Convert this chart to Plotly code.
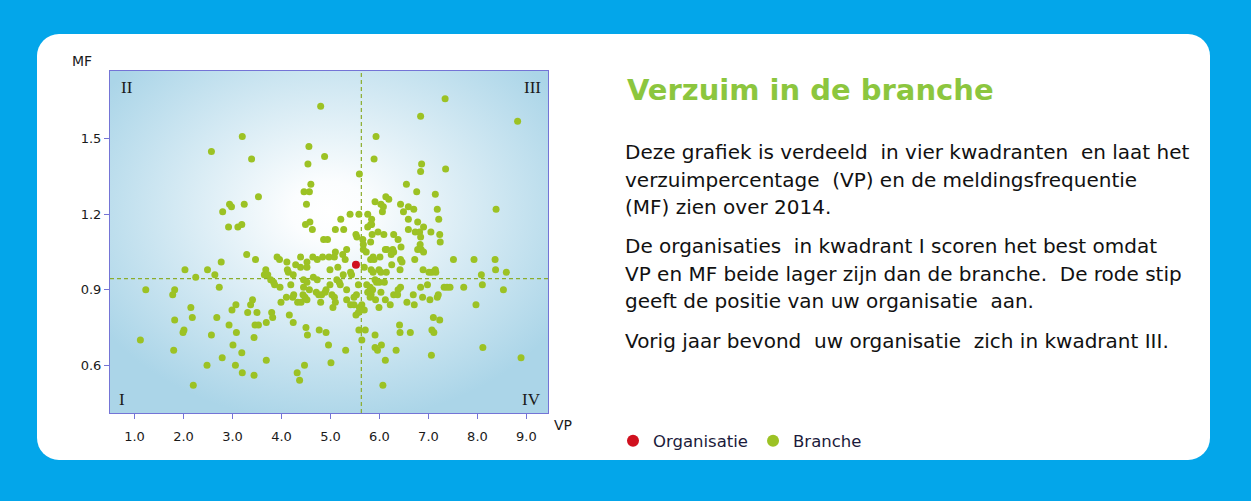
import base64
import plotly.graph_objects as go

# ---------------- data ----------------
org_vp = [5.52]
org_mf = [1.00]

branche_vp = [
    3.20, 2.57, 3.39, 3.53, 2.94, 2.98, 3.24, 2.80, 2.92, 3.11, 3.19,
    4.80, 5.93, 4.56, 4.88, 4.54, 5.89, 5.59, 6.55, 4.60, 4.46, 4.57, 4.51, 5.91, 6.13, 6.19,
    6.03, 6.08, 6.43, 6.06, 6.49, 6.59, 5.40, 5.58, 5.76, 5.21, 5.84, 5.84, 4.58, 4.49, 6.59,
    4.63, 5.10, 5.27, 5.76, 5.82, 5.97, 5.85, 6.09, 6.29, 6.59, 5.52,
    7.34, 6.84, 8.82, 6.86, 6.84, 7.35, 6.76, 7.14, 6.70, 7.18, 8.38, 6.78, 7.21, 6.90, 6.73,
    6.82, 7.05, 7.23,
    6.84, 7.24, 6.83, 6.78, 6.85, 6.90, 6.72, 7.51, 7.93, 8.36, 6.89, 7.01, 7.07, 7.14, 7.15,
    8.37, 8.59, 8.08, 6.84, 6.98, 7.32, 7.38, 7.44, 7.72, 8.10, 8.53, 6.69, 6.88, 7.18, 7.20,
    6.71, 7.03, 7.97, 7.10, 7.23, 6.63, 7.07, 7.11, 8.11, 7.06, 8.89,
    2.49, 3.29, 3.47, 2.77, 2.03, 2.25, 2.64, 1.23, 1.82, 1.78, 2.73, 3.41, 3.37, 3.07, 2.99,
    3.31, 3.50, 2.15, 2.18, 2.68, 1.82, 2.93, 3.46, 3.53, 3.08, 2.01, 1.99, 2.57, 1.12, 3.44,
    3.01, 1.80, 3.19, 2.79, 2.48, 3.06, 3.20, 3.44, 2.20,
    4.86, 4.94, 5.54, 5.66, 5.82, 6.38, 5.33, 5.10, 4.97, 5.08, 5.25, 5.30, 4.84, 4.73, 4.64,
    4.52, 4.39, 4.29, 4.39, 4.11, 3.91, 3.96, 4.52, 5.67, 5.67, 5.73, 5.87, 5.82, 5.89, 6.01,
    6.12, 6.15, 6.27, 6.29, 6.24, 6.44, 6.43, 6.46, 6.25, 6.42, 5.99, 6.03, 6.14, 5.83, 5.87,
    5.69, 5.41, 5.43, 5.26, 5.15, 4.99, 4.14, 4.12, 4.24, 3.68, 3.65, 3.72, 4.65, 4.73, 4.45,
    4.52, 3.78, 3.84, 3.86, 3.97, 4.19, 4.45, 5.13, 5.18, 5.20, 4.99, 5.57, 5.74, 5.81, 5.86,
    5.91, 5.94, 6.00, 6.10, 6.43, 6.38, 5.33, 5.53, 5.48, 5.76, 5.83, 5.81, 6.03, 6.29, 6.37,
    4.57, 4.71, 4.76, 4.91, 4.89, 5.03, 5.08, 4.82, 4.44, 4.48, 4.25, 4.23, 4.10, 3.99, 4.33,
    4.40, 4.52, 4.80, 5.10, 5.05, 5.33, 5.41, 5.48, 5.59, 5.64, 5.63, 5.69, 5.52, 5.57, 5.92,
    6.12, 5.99, 6.22, 6.56, 3.80, 3.82, 4.16, 4.24, 3.69, 4.50, 4.53, 4.77, 4.91, 5.58, 5.71,
    5.91, 6.41, 6.42, 5.64, 4.96, 5.31, 5.91, 5.96, 6.04, 6.34, 3.69, 5.01, 4.47, 6.12, 4.32,
    4.37, 6.07,
]
branche_mf = [
    1.51, 1.45, 1.42, 1.27, 1.24, 1.23, 1.24, 1.21, 1.15, 1.15, 1.16,
    1.63, 1.51, 1.47, 1.43, 1.40, 1.42, 1.36, 1.32, 1.32, 1.29, 1.29, 1.24, 1.25, 1.27, 1.26,
    1.24, 1.23, 1.24, 1.21, 1.21, 1.23, 1.20, 1.20, 1.20, 1.18, 1.18, 1.16, 1.17, 1.16, 1.18,
    1.14, 1.14, 1.14, 1.15, 1.16, 1.13, 1.12, 1.12, 1.12, 1.14, 1.12,
    1.66, 1.59, 1.57, 1.40, 1.37, 1.38, 1.29, 1.28, 1.22, 1.22, 1.22, 1.17, 1.18, 1.15, 1.13,
    1.13, 1.13, 1.12,
    1.11, 1.09, 1.08, 1.06, 1.06, 1.05, 1.02, 1.02, 1.02, 1.02, 0.98, 0.97, 0.97, 0.98, 0.97,
    0.98, 0.97, 0.96, 0.91, 0.92, 0.91, 0.91, 0.91, 0.91, 0.92, 0.90, 0.88, 0.87, 0.87, 0.88,
    0.84, 0.86, 0.84, 0.79, 0.78, 0.73, 0.74, 0.73, 0.67, 0.64, 0.63,
    0.98, 1.04, 1.02, 1.01, 0.98, 0.95, 0.96, 0.90, 0.90, 0.88, 0.91, 0.86, 0.84, 0.84, 0.82,
    0.81, 0.81, 0.83, 0.79, 0.79, 0.78, 0.76, 0.76, 0.76, 0.73, 0.74, 0.73, 0.72, 0.70, 0.71,
    0.68, 0.66, 0.65, 0.63, 0.60, 0.60, 0.57, 0.56, 0.52,
    1.10, 1.10, 1.11, 1.10, 1.09, 1.10, 1.06, 1.05, 1.03, 1.03, 1.04, 1.02, 1.03, 1.02, 1.03,
    1.01, 1.03, 1.00, 0.99, 1.01, 1.03, 1.02, 0.99, 1.08, 1.06, 1.05, 1.03, 1.02, 1.02, 1.03,
    1.06, 1.06, 1.06, 1.05, 1.04, 1.07, 1.02, 1.01, 1.00, 0.98, 0.98, 0.97, 0.97, 0.98, 0.97,
    0.99, 0.97, 0.96, 0.96, 0.99, 0.98, 0.97, 0.98, 0.96, 0.98, 0.96, 0.96, 0.95, 0.94, 0.94,
    0.93, 0.94, 0.93, 0.92, 0.91, 0.92, 0.91, 0.94, 0.93, 0.92, 0.92, 0.92, 0.92, 0.91, 0.90,
    0.94, 0.93, 0.93, 0.93, 0.91, 0.90, 0.90, 0.88, 0.87, 0.89, 0.88, 0.87, 0.89, 0.88, 0.88,
    0.90, 0.89, 0.88, 0.90, 0.89, 0.88, 0.87, 0.88, 0.88, 0.87, 0.88, 0.87, 0.87, 0.85, 0.85,
    0.85, 0.86, 0.85, 0.85, 0.83, 0.86, 0.84, 0.84, 0.83, 0.84, 0.82, 0.82, 0.80, 0.81, 0.86,
    0.86, 0.83, 0.84, 0.85, 0.81, 0.79, 0.80, 0.77, 0.77, 0.75, 0.72, 0.74, 0.73, 0.74, 0.74,
    0.72, 0.76, 0.73, 0.70, 0.68, 0.66, 0.67, 0.66, 0.68, 0.66, 0.62, 0.61, 0.60, 0.62, 0.57,
    0.54, 0.52,
]

VP_BRANCHE = 5.63   # vertical dashed reference line
MF_BRANCHE = 0.944  # horizontal dashed reference line

x_ticks = [1, 2, 3, 4, 5, 6, 7, 8, 9]
y_ticks = [0.6, 0.9, 1.2, 1.5]

NB = "\u00a0 "  # wider word gap as in the original rendering
title_text = "Verzuim in de branche"
body_lines = [
    f"Deze grafiek is verdeeld{NB}in vier kwadranten{NB}en laat het",
    f"verzuimpercentage{NB}(VP) en de meldingsfrequentie",
    "(MF) zien over 2014.",
    f"De organisaties{NB}in kwadrant I scoren het best omdat",
    f"VP en MF beide lager zijn dan de branche.{NB}De rode stip",
    f"geeft de positie van uw organisatie{NB}aan.",
    f"Vorig jaar bevond{NB}uw organisatie{NB}zich in kwadrant III.",
]
body_y = [152, 180, 207, 246, 274, 301, 341]

# ---------------- layout geometry ----------------
W, H = 1251, 501
L, R, T, B = 110, 703, 71, 88
PW, PH = W - L - R, H - T - B


def px(x):
    return (x - L) / PW


def py(y):
    return (H - B - y) / PH


BLUE = "#03A6EA"
GREEN_PT = "#9CC224"
RED_PT = "#D0101E"
AXIS = "#7474D6"
FONT = "DejaVu Sans"

bg_svg = (
    f"<svg xmlns='http://www.w3.org/2000/svg' width='{W}' height='{H}' viewBox='0 0 {W} {H}'>"
    f"<rect width='{W}' height='{H}' fill='{BLUE}'/>"
    f"<rect x='37' y='34' width='1173' height='426' rx='22' ry='22' fill='#ffffff'/>"
    "</svg>"
)
grad_svg = (
    f"<svg xmlns='http://www.w3.org/2000/svg' width='{PW}' height='{PH}' viewBox='0 0 {PW} {PH}' preserveAspectRatio='none'>"
    "<defs><radialGradient id='g' cx='0.5' cy='0.41' r='0.62'>"
    "<stop offset='0' stop-color='#ffffff'/>"
    "<stop offset='0.14' stop-color='#fbfdfe'/>"
    "<stop offset='1' stop-color='#abd5e8'/>"
    "</radialGradient></defs>"
    f"<rect width='{PW}' height='{PH}' fill='url(#g)'/></svg>"
)


def svg_uri(s):
    return "data:image/svg+xml;base64," + base64.b64encode(s.encode()).decode()


fig = go.Figure()
fig.add_trace(go.Scatter(
    x=branche_vp, y=branche_mf, mode="markers", name="Branche",
    marker=dict(color=GREEN_PT, size=7, line=dict(width=0)), legendrank=2,
))
fig.add_trace(go.Scatter(
    x=org_vp, y=org_mf, mode="markers", name="Organisatie",
    marker=dict(color=RED_PT, size=8, line=dict(width=0)), legendrank=1,
))

fig.update_layout(
    width=W, height=H,
    margin=dict(l=L, r=R, t=T, b=B, autoexpand=False),
    paper_bgcolor=BLUE, plot_bgcolor="rgba(0,0,0,0)",
    font=dict(family=FONT, size=13, color="#1a1a1a"),
    showlegend=True,
    legend=dict(
        orientation="h", x=px(613), xanchor="left", y=py(441), yanchor="middle",
        font=dict(family=FONT, size=16.5, color="#1b1b3b"), bgcolor="rgba(0,0,0,0)",
        itemsizing="constant", traceorder="normal",
    ),
    images=[
        dict(source=svg_uri(bg_svg), xref="paper", yref="paper", x=px(0), y=py(0),
             sizex=W / PW, sizey=H / PH, xanchor="left", yanchor="top",
             sizing="stretch", layer="below"),
        dict(source=svg_uri(grad_svg), xref="paper", yref="paper", x=0, y=1,
             sizex=1, sizey=1, xanchor="left", yanchor="top",
             sizing="stretch", layer="below"),
    ],
)

fig.update_xaxes(
    range=[0.5, 9.44], tickvals=x_ticks, tickformat=".1f",
    showgrid=False, zeroline=False, showline=True, linecolor=AXIS, linewidth=1,
    mirror=True, ticks="outside", ticklen=5, tickcolor=AXIS,
    tickfont=dict(size=13, color="#1a1a1a"), ticklabelstandoff=6,
)
fig.update_yaxes(
    range=[0.41, 1.77], tickvals=y_ticks, tickformat=".1f",
    showgrid=False, zeroline=False, showline=True, linecolor=AXIS, linewidth=1,
    mirror=True, ticks="outside", ticklen=5, tickcolor=AXIS,
    tickfont=dict(size=13, color="#1a1a1a"),
)

DASH = "#8BAD2C"
fig.add_shape(type="line", xref="x", yref="paper", x0=VP_BRANCHE, x1=VP_BRANCHE, y0=0, y1=1,
              line=dict(color=DASH, width=1.2, dash="4px,3px"), layer="below")
fig.add_shape(type="line", xref="paper", yref="y", x0=0, x1=1, y0=MF_BRANCHE, y1=MF_BRANCHE,
              line=dict(color=DASH, width=1.2, dash="4px,3px"), layer="below")

ann = []
C = dict(xref="paper", yref="paper", showarrow=False, xanchor="center", yanchor="middle")
# axis titles
ann.append(dict(text="MF", x=px(82), y=py(61), font=dict(size=14, color="#1a1a1a"), **C))
ann.append(dict(text="VP", x=px(563), y=py(425), font=dict(size=14, color="#1a1a1a"), **C))
# quadrant labels
for t, xx, yy in [("II", 127, 87), ("III", 532, 87), ("I", 122, 399), ("IV", 531, 399)]:
    ann.append(dict(text=t, x=px(xx), y=py(yy),
                    font=dict(family="Liberation Serif", size=17, color="#1a1a1a"), **C))
# title
ann.append(dict(text=title_text, x=px(625), y=py(90), xref="paper", yref="paper",
                xanchor="left", yanchor="middle", showarrow=False,
                font=dict(family=FONT, size=29, color="#8CC63E", weight="bold")))
for line, yy in zip(body_lines, body_y):
    ann.append(dict(text=line, x=px(623), y=py(yy), xref="paper", yref="paper",
                    xanchor="left", yanchor="middle", showarrow=False,
                    font=dict(family=FONT, size=20, color="#111111")))
fig.update_layout(annotations=ann)

fig.write_html("out.html")
